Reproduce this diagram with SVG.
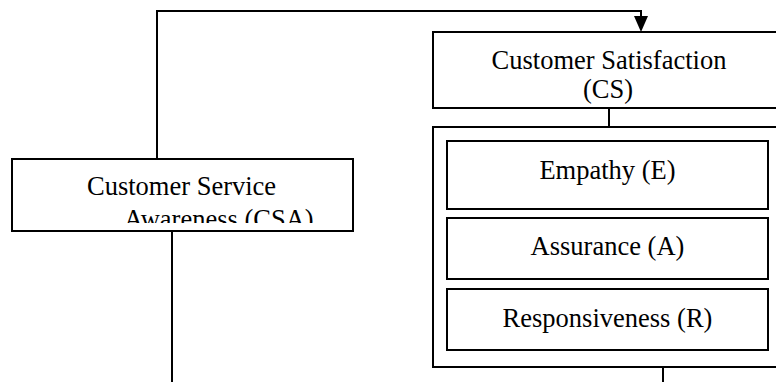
<svg xmlns="http://www.w3.org/2000/svg" width="776" height="382" viewBox="0 0 776 382">
  <style>
    .box { fill: #ffffff; stroke: #000000; stroke-width: 2; }
    .wire { fill: none; stroke: #000000; stroke-width: 2; }
    .label { font-family: "Liberation Serif", "Times New Roman", serif; font-size: 26.5px; fill: #000000; }
    .mid { text-anchor: middle; }
  </style>
  <defs>
    <clipPath id="csaClip">
      <rect x="12" y="159" width="341" height="64"/>
    </clipPath>
  </defs>
  <rect width="776" height="382" fill="#ffffff"/>

  <g id="connectors">
    <!-- feedback loop from CSA up and over to CS -->
    <path class="wire" d="M157,159 V11 H641 V18"/>
    <polygon points="634,16 648,16 641,32" fill="#000000"/>
    <!-- CS to the dimension group -->
    <path class="wire" d="M609,108 V127"/>
    <!-- outgoing leads at the bottom -->
    <path class="wire" d="M172,231 V382"/>
    <path class="wire" d="M663,367 V382"/>
  </g>

  <g id="node-csa">
    <rect class="box" x="12" y="159" width="341" height="72"/>
    <g clip-path="url(#csaClip)">
      <text class="label" x="87" y="195">Customer Service</text>
      <text class="label" x="124" y="228">Awareness (CSA)</text>
    </g>
  </g>

  <g id="node-cs">
    <rect class="box" x="433" y="32" width="352" height="76"/>
    <text class="label mid" x="609" y="69">Customer Satisfaction</text>
    <text class="label mid" x="608" y="98">(CS)</text>
  </g>

  <g id="group-dimensions">
    <rect class="box" x="433" y="127" width="350" height="240"/>
  </g>

  <g id="node-empathy">
    <rect class="box" x="447" y="141" width="321" height="68"/>
    <text class="label mid" x="607.5" y="179">Empathy (E)</text>
  </g>

  <g id="node-assurance">
    <rect class="box" x="447" y="218" width="321" height="61"/>
    <text class="label mid" x="607.5" y="255">Assurance (A)</text>
  </g>

  <g id="node-responsiveness">
    <rect class="box" x="447" y="289" width="321" height="61"/>
    <text class="label mid" x="607.5" y="327">Responsiveness (R)</text>
  </g>
</svg>
